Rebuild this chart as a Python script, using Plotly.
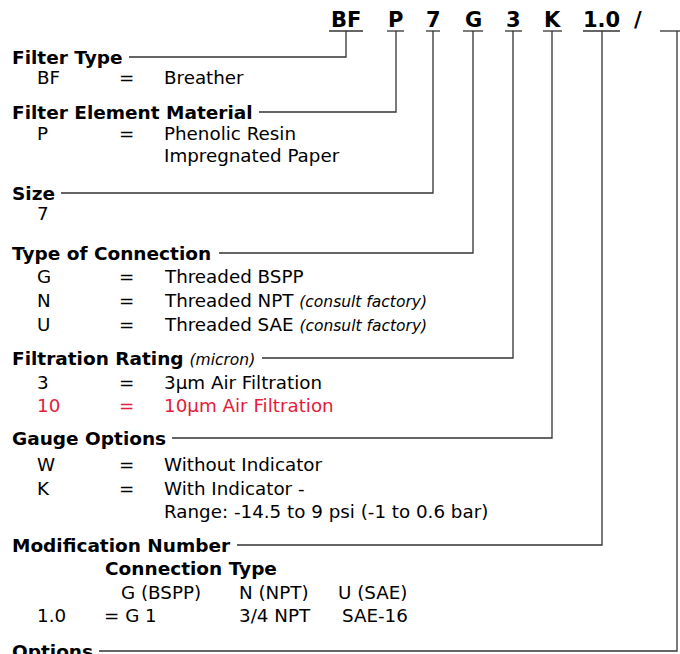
import plotly.graph_objects as go

# ---------------- data ----------------
codes = ["BF", "P", "7", "G", "3", "K", "1.0", "/", ""]
code_has_line = [True, True, True, True, True, True, True, False, True]

header_titles = ["Filter Type", "Filter Element Material", "Size", "Type of Connection",
                 "Filtration Rating", "Gauge Options", "Modification Number", "Options"]
header_notes = ["", "", "", "", "(micron)", "", "", ""]

row_codes = ["BF", "P", "", "7", "G", "N", "U", "3", "10", "W", "K", ""]
row_eq = ["=", "=", "", "", "=", "=", "=", "=", "=", "=", "=", ""]
row_desc = ["Breather", "Phenolic Resin", "Impregnated Paper", "", "Threaded BSPP",
            "Threaded NPT", "Threaded SAE", "3\u00b5m Air Filtration", "10\u00b5m Air Filtration",
            "Without Indicator", "With Indicator -", "Range: -14.5 to 9 psi (-1 to 0.6 bar)"]
row_note = ["", "", "", "", "", "(consult factory)", "(consult factory)", "", "", "", "", ""]
row_red = [False, False, False, False, False, False, False, False, True, False, False, False]

conn_title = "Connection Type"
conn_types = ["G (BSPP)", "N (NPT)", "U (SAE)"]
mod_code = "1.0"
mod_values = ["= G 1", "3/4 NPT", "SAE-16"]

# ---------------- layout positions (pixels) ----------------
W, H = 680, 654
code_x0 = [329, 387, 426, 463, 505, 543, 583, 633, 660]
code_x1 = [363, 404, 440, 483, 522, 562, 620, 642, 680]
code_vx = [346, 396, 433, 473, 513, 552, 602, None, 677]
code_y = 20
underline_y = 31

header_y = [57, 112, 193, 253, 358, 438, 545, 651]
header_line_x0 = [129, 259, 61, 219, 262, 172, 237, 99]
header_target = [0, 1, 2, 3, 4, 5, 6, 8]  # which code column each header connects to

row_y = [77, 133, 155, 213, 276, 300, 324, 382, 405, 464, 488, 511]

conn_title_x = 103
conn_title_y = 568
conn_types_x = [119, 237, 336]
conn_types_y = 592
mod_y = 615
mod_x = [102, 237, 340]

X_HEAD, X_CODE, X_EQ, X_DESC = 10, 35, 117, 162

LINE_COLOR = "#333333"
RED = "#e31d3c"
FONT = "DejaVu Sans"
FS_BOLD = 18.5
FS_REG = 18.3
FS_NOTE = 15.5

fig = go.Figure()

# lines: underlines, verticals and horizontal header connectors
lx, ly = [], []
for i, c in enumerate(codes):
    if code_has_line[i]:
        lx += [code_x0[i], code_x1[i], None]
        ly += [underline_y, underline_y, None]
for h, t in enumerate(header_target):
    vx = code_vx[t]
    lx += [header_line_x0[h], vx, vx, None]
    ly += [header_y[h], header_y[h], underline_y, None]

fig.add_trace(go.Scatter(x=lx, y=ly, mode="lines",
                         line=dict(color=LINE_COLOR, width=1.3),
                         hoverinfo="skip", showlegend=False, cliponaxis=False))

ann = []
def txt(x, y, s, size=FS_REG, color="black", bold=False, anchor="left"):
    ann.append(dict(x=x, y=y, xref="x", yref="y", text=(f"<b>{s}</b>" if bold else s),
                    showarrow=False, xanchor=anchor, yanchor="middle",
                    font=dict(family=FONT, size=size, color=color)))

# top code
for i, c in enumerate(codes):
    if c:
        txt((code_x0[i] + code_x1[i]) / 2, code_y, c, size=21, bold=True, anchor="center")

# headers
for h, t in enumerate(header_titles):
    s = f"<b>{t}</b>"
    if header_notes[h]:
        s += f" <i><span style='font-size:{FS_NOTE}px'>{header_notes[h]}</span></i>"
    ann.append(dict(x=X_HEAD, y=header_y[h], xref="x", yref="y", text=s, showarrow=False,
                    xanchor="left", yanchor="middle",
                    font=dict(family=FONT, size=FS_BOLD, color="black")))

# rows
for r in range(len(row_y)):
    col = RED if row_red[r] else "black"
    if row_codes[r]:
        txt(X_CODE, row_y[r], row_codes[r], color=col)
    if row_eq[r]:
        txt(X_EQ, row_y[r], row_eq[r], color=col)
    if row_desc[r]:
        s = row_desc[r]
        if row_note[r]:
            s += f" <i><span style='font-size:{FS_NOTE}px'>{row_note[r]}</span></i>"
        txt(X_DESC, row_y[r], s, color=col)

# modification number table
txt(conn_title_x, conn_title_y, conn_title, size=FS_BOLD, bold=True)
for i, s in enumerate(conn_types):
    txt(conn_types_x[i], conn_types_y, s)
txt(X_CODE, mod_y, mod_code)
for i, s in enumerate(mod_values):
    txt(mod_x[i], mod_y, s)

fig.update_layout(
    width=W, height=H, margin=dict(l=0, r=0, t=0, b=0),
    paper_bgcolor="white", plot_bgcolor="white",
    xaxis=dict(range=[0, W], visible=False, fixedrange=True),
    yaxis=dict(range=[H, 0], visible=False, fixedrange=True),
    annotations=ann, showlegend=False,
)
fig.write_html("out.html", config={"displayModeBar": False},
               post_script="document.body.style.margin='0';document.body.style.padding='0';document.body.style.overflow='hidden';")
